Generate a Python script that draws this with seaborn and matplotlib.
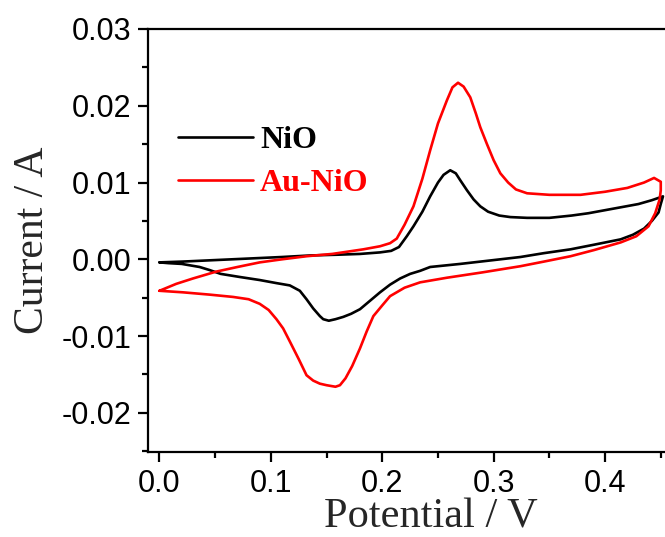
import numpy as np
import pandas as pd
import matplotlib
matplotlib.use("Agg")
import matplotlib.pyplot as plt
import seaborn as sns
from matplotlib.ticker import MultipleLocator, FormatStrFormatter
from matplotlib.lines import Line2D

# ---- data ----
nio_potential = [
    0.000, 0.020, 0.050, 0.080, 0.110, 0.135, 0.160, 0.180, 0.198, 0.208,
    0.215, 0.222, 0.228, 0.236, 0.243, 0.250, 0.255, 0.261, 0.266, 0.270,
    0.276, 0.282, 0.288, 0.295, 0.305, 0.315, 0.330, 0.350, 0.370, 0.385,
    0.400, 0.415, 0.430, 0.442, 0.452,
    0.450, 0.448, 0.442, 0.435, 0.425, 0.414, 0.390, 0.369, 0.345, 0.324,
    0.300, 0.270, 0.243, 0.234, 0.225, 0.216, 0.207, 0.198, 0.189, 0.180,
    0.172, 0.165, 0.158, 0.152, 0.147, 0.144, 0.138, 0.132, 0.126, 0.117,
    0.105, 0.090, 0.072, 0.055, 0.045, 0.036, 0.020, 0.008, 0.000,
]
nio_current = [
    -0.0004, -0.0003, -0.0001, 0.0001, 0.0003, 0.0005, 0.0006, 0.0007, 0.0009, 0.0011,
    0.0016, 0.0030, 0.0043, 0.0062, 0.0082, 0.0100, 0.0110, 0.0116, 0.0112, 0.0103,
    0.0090, 0.0078, 0.0069, 0.0062, 0.0057, 0.0055, 0.0054, 0.0054, 0.0057, 0.0060,
    0.0064, 0.0068, 0.0072, 0.0077, 0.0082,
    0.0072, 0.0061, 0.0050, 0.0040, 0.0032, 0.0026, 0.0019, 0.0013, 0.0008, 0.0003,
    -0.0001, -0.0006, -0.0010, -0.0015, -0.0019, -0.0025, -0.0033, -0.0043, -0.0054, -0.0065,
    -0.0071, -0.0075, -0.0078, -0.0080, -0.0078, -0.0074, -0.0064, -0.0052, -0.0041, -0.0034,
    -0.0031, -0.0027, -0.0023, -0.0019, -0.0014, -0.0010, -0.0006, -0.0005, -0.0004,
]

au_potential = [
    0.000, 0.015, 0.030, 0.051, 0.070, 0.090, 0.110, 0.132, 0.155, 0.183,
    0.198, 0.207, 0.213, 0.220, 0.228, 0.236, 0.243, 0.250, 0.258, 0.263,
    0.268, 0.273, 0.279, 0.284, 0.288, 0.294, 0.300, 0.306, 0.313, 0.320,
    0.330, 0.350, 0.378, 0.400, 0.420, 0.435, 0.444, 0.450,
    0.450, 0.449, 0.445, 0.439, 0.428, 0.414, 0.390, 0.369, 0.345, 0.324,
    0.290, 0.258, 0.234, 0.220, 0.207, 0.200, 0.192, 0.186, 0.180, 0.173,
    0.167, 0.162, 0.158, 0.150, 0.144, 0.138, 0.132, 0.125, 0.117, 0.111, 0.105,
    0.098, 0.090, 0.080, 0.066, 0.045, 0.021, 0.000,
]
au_current = [
    -0.0041, -0.0032, -0.0025, -0.0016, -0.0010, -0.0004, 0.0000, 0.0004, 0.0007, 0.0013,
    0.0017, 0.0021, 0.0027, 0.0045, 0.0069, 0.0105, 0.0142, 0.0177, 0.0207, 0.0224,
    0.0230, 0.0225, 0.0211, 0.0190, 0.0172, 0.0150, 0.0129, 0.0112, 0.0100, 0.0091,
    0.0086, 0.0084, 0.0084, 0.0088, 0.0093, 0.0100, 0.0106, 0.0101,
    0.0090, 0.0078, 0.0060, 0.0043, 0.0030, 0.0022, 0.0012, 0.0004, -0.0003, -0.0009,
    -0.0017, -0.0024, -0.0030, -0.0037, -0.0048, -0.0060, -0.0074, -0.0094, -0.0116, -0.0139,
    -0.0155, -0.0164, -0.0166, -0.0164, -0.0162, -0.0158, -0.0151, -0.0130, -0.0107, -0.0090, -0.0078,
    -0.0066, -0.0058, -0.0052, -0.0049, -0.0046, -0.0043, -0.0041,
]

series_names = ["NiO", "Au-NiO"]
series_colors = ["#000000", "#ff0000"]
x_ticks = [0.0, 0.1, 0.2, 0.3, 0.4]
y_ticks = [-0.02, -0.01, 0.00, 0.01, 0.02, 0.03]

# ---- build table ----
df = pd.concat([
    pd.DataFrame({"Potential": nio_potential, "Current": nio_current,
                  "Sample": series_names[0], "order": range(len(nio_potential))}),
    pd.DataFrame({"Potential": au_potential, "Current": au_current,
                  "Sample": series_names[1], "order": range(len(au_potential))}),
], ignore_index=True)

sns.set_style("ticks")
plt.rcParams["font.family"] = ["Liberation Sans", "DejaVu Sans"]

fig = plt.figure(figsize=(6.65, 5.37), dpi=100)
ax = fig.add_axes([148 / 665, 85 / 537, 1 - 148 / 665, (452 - 29) / 537])

for name, color in zip(series_names, series_colors):
    sub = df[df["Sample"] == name]
    sns.lineplot(data=sub, x="Potential", y="Current", sort=False, estimator=None,
                 color=color, linewidth=1.9, ax=ax, legend=False)

ax.set_xlim(-0.0103, 0.4538)
ax.set_ylim(-0.0251, 0.03)
ax.set_xticks(x_ticks)
ax.set_yticks(y_ticks)
ax.xaxis.set_major_formatter(FormatStrFormatter("%.1f"))
ax.yaxis.set_major_formatter(FormatStrFormatter("%.2f"))
ax.xaxis.set_minor_locator(MultipleLocator(0.05))
ax.yaxis.set_minor_locator(MultipleLocator(0.005))

ax.spines["right"].set_visible(False)
for s in ["left", "bottom", "top"]:
    ax.spines[s].set_linewidth(1.6)
    ax.spines[s].set_color("black")
ax.tick_params(which="major", direction="out", length=7, width=1.6,
               labelsize=22, pad=5, colors="black")
ax.tick_params(which="minor", direction="out", length=4, width=1.6, colors="black")
ax.tick_params(top=False, right=False, which="both")

ax.set_xlabel("Potential / V", family=["Liberation Serif"], fontsize=30.5, labelpad=0)
ax.set_ylabel("Current / A", family=["Liberation Serif"], fontsize=30, labelpad=7)
ax.xaxis.set_label_coords(0.547, -0.108)

handles = [Line2D([], [], color=c, linewidth=1.9) for c in series_colors]
leg = ax.legend(handles, series_names, loc="upper left", bbox_to_anchor=(0.058, 0.771),
                frameon=False, borderaxespad=0, borderpad=0, handlelength=2.35,
                handletextpad=0.22, labelspacing=0.41,
                prop={"family": "Liberation Serif", "weight": "bold", "size": 23})
for t, c in zip(leg.get_texts(), series_colors):
    t.set_color(c)

fig.savefig("out.png", dpi=100)
